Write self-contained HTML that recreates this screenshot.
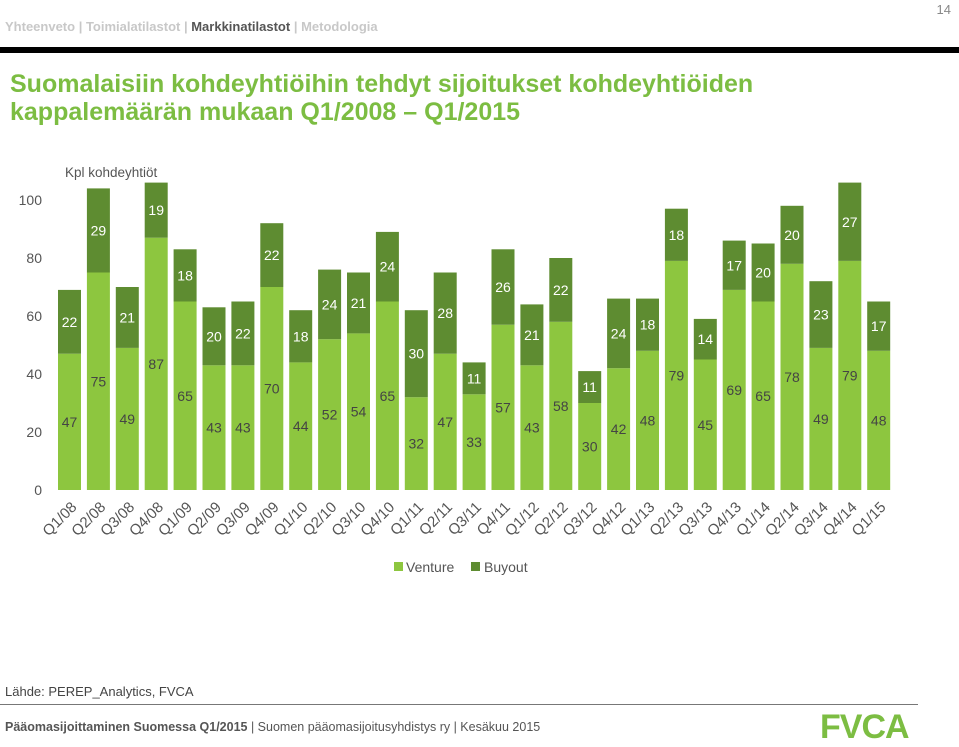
<!DOCTYPE html>
<html><head><meta charset="utf-8"><style>
body{margin:0;width:959px;height:745px;background:#fff;font-family:"Liberation Sans",sans-serif;overflow:hidden;position:relative}
.abs{position:absolute}
</style></head><body>
<div class="abs" style="left:5px;top:19px;font-size:13px;color:#c8c8c8;font-weight:bold">
<span>Yhteenveto</span> | <span>Toimialatilastot</span> | <span style="color:#555">Markkinatilastot</span> | <span>Metodologia</span></div>
<div class="abs" style="right:8px;top:2px;font-size:13px;color:#888">14</div>
<div class="abs" style="left:0;top:47px;width:959px;height:6px;background:#000"></div>
<div class="abs" style="left:10px;top:70px;font-size:25px;line-height:28px;color:#7cbd42;font-weight:bold">Suomalaisiin kohdeyhtiöihin tehdyt sijoitukset kohdeyhtiöiden<br>kappalemäärän mukaan Q1/2008 – Q1/2015</div>
<svg class="abs" style="left:0;top:0" width="959" height="745">
<g id="g"></g></svg>
<div class="abs" style="left:5px;top:684px;font-size:13px;color:#444">Lähde: PEREP_Analytics, FVCA</div>
<div class="abs" style="left:0;top:704px;width:918px;height:1px;background:#777"></div>
<div class="abs" style="left:5px;top:720px;font-size:12.5px;color:#555"><b>Pääomasijoittaminen Suomessa Q1/2015</b> | Suomen pääomasijoitusyhdistys ry | Kesäkuu 2015</div>
<div class="abs" style="left:820px;top:708px;font-size:34px;font-weight:bold;color:#7cbd42;letter-spacing:-1px">FVCA</div>
<script>
const categories=["Q1/08","Q2/08","Q3/08","Q4/08","Q1/09","Q2/09","Q3/09","Q4/09","Q1/10","Q2/10","Q3/10","Q4/10","Q1/11","Q2/11","Q3/11","Q4/11","Q1/12","Q2/12","Q3/12","Q4/12","Q1/13","Q2/13","Q3/13","Q4/13","Q1/14","Q2/14","Q3/14","Q4/14","Q1/15"];
const venture=[47,75,49,87,65,43,43,70,44,52,54,65,32,47,33,57,43,58,30,42,48,79,45,69,65,78,49,79,48];
const buyout=[22,29,21,19,18,20,22,22,18,24,21,24,30,28,11,26,21,22,11,24,18,18,14,17,20,20,23,27,17];
const yTicks=[0,20,40,60,80,100];
const NS="http://www.w3.org/2000/svg",g=document.getElementById('g');
const y=v=>490-v*2.9, x=i=>69.5+i*28.9, bw=23;
function mk(t,a,txt){const e=document.createElementNS(NS,t);for(const k in a)e.setAttribute(k,a[k]);if(txt!==undefined)e.textContent=txt;g.appendChild(e);return e;}
yTicks.forEach(t=>{const e=mk('text',{x:42,y:y(t)+5,'text-anchor':'end','font-size':14,fill:'#555'},t);

});
let e=mk('text',{x:65,y:177,'font-size':13.5,fill:'#555'},'Kpl kohdeyhtiöt');


categories.forEach((c,i)=>{
 const cx=x(i),v=venture[i],b=buyout[i];
 let r=mk('rect',{x:cx-bw/2,y:y(v),width:bw,height:v*2.9,fill:'#8dc63f'});
 
 
 r=mk('rect',{x:cx-bw/2,y:y(v+b),width:bw,height:b*2.9,fill:'#5e8c31'});
 
 
 let t=mk('text',{x:cx,y:y(v/2)+5,'text-anchor':'middle','font-size':14,fill:'#444'},v);
 
 
 t=mk('text',{x:cx,y:y(v+b/2)+5,'text-anchor':'middle','font-size':14,fill:'#fff'},b);
 
 
 t=mk('text',{x:cx+8,y:508,'text-anchor':'end','font-size':15,fill:'#555',transform:`rotate(-45 ${cx+8} 508)`},c);
 
 
});
let lr=mk('rect',{x:394,y:562,width:9,height:9,fill:'#8dc63f'});


let lt=mk('text',{x:406,y:572,'font-size':14,fill:'#555'},'Venture');


lr=mk('rect',{x:471,y:562,width:9,height:9,fill:'#5e8c31'});


lt=mk('text',{x:484,y:572,'font-size':14,fill:'#555'},'Buyout');


</script>
</body></html>
